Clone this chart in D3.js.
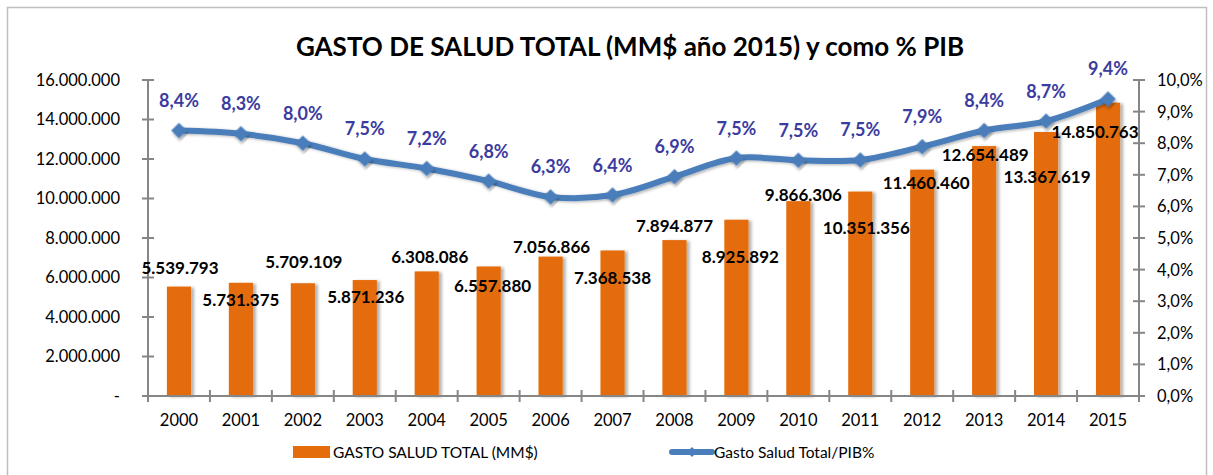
<!DOCTYPE html>
<html>
<head>
<meta charset="utf-8">
<script src="https://cdn.jsdelivr.net/npm/d3@7"></script>
<style>
  body { margin: 0; background: #fff; }
  text { font-family: Lato, "Open Sans", sans-serif; }
</style>
</head>
<body>
<div id="chart"></div>
<script>
const years = ['2000', '2001', '2002', '2003', '2004', '2005', '2006', '2007',
  '2008', '2009', '2010', '2011', '2012', '2013', '2014', '2015'];
const gastoTotal = [5539793, 5731375, 5709109, 5871236, 6308086, 6557880, 7056866, 7368538,
  7894877, 8925892, 9866306, 10351356, 11460460, 12654489, 13367619, 14850763];
const gastoPib = [8.4, 8.3, 8.0, 7.5, 7.2, 6.8, 6.3, 6.36, 6.94, 7.53, 7.46, 7.47, 7.89, 8.4, 8.7, 9.4];
const leftTicks = [0, 2000000, 4000000, 6000000, 8000000, 10000000, 12000000, 14000000, 16000000];
const rightTicks = [0, 1, 2, 3, 4, 5, 6, 7, 8, 9, 10];

// manual nudges for the bar labels, like the ones dragged around in the original
const labelShift = [[1, -19], [0, 17], [1, -21], [1, 17], [3, -15], [4, 19], [1, -10], [0, 27],
  [0, -14], [4, 37], [5, -6], [6, 36], [4, 13], [1, 9], [1, 45], [-13, 29]];

const width = 1213;
const height = 475;
const plotLeft = 148; const plotRight = 1139;
const plotTop = 80; const plotBottom = 396;

const locale = d3.formatLocale({decimal: ',', thousands: '.', grouping: [3], currency: ['$', '']});
const fmtInt = locale.format(',d');
const fmtPct = locale.format('.1f');

const x = d3.scaleBand().domain(years).range([plotLeft, plotRight]).paddingInner(0.61).paddingOuter(0.305);
const yL = d3.scaleLinear().domain([0, 16000000]).range([plotBottom, plotTop]);
const yR = d3.scaleLinear().domain([0, 10]).range([plotBottom, plotTop]);

const svg = d3.select('#chart').append('svg').attr('width', width).attr('height', height);

const defs = svg.append('defs');
const shadow = defs.append('filter').attr('id', 'shadow')
  .attr('x', '-30%').attr('y', '-30%').attr('width', '160%').attr('height', '160%');
shadow.append('feDropShadow').attr('dx', 3).attr('dy', 1).attr('stdDeviation', 1.4)
  .attr('flood-color', '#000').attr('flood-opacity', 0.3);

svg.append('rect').attr('x', 7.5).attr('y', 7.5).attr('width', 1199).attr('height', 490)
  .attr('fill', '#fff').attr('stroke', '#bfbfbf').attr('stroke-width', 1.5);

svg.append('text')
  .attr('x', 630).attr('y', 56)
  .attr('text-anchor', 'middle')
  .style('font-size', '26px').style('font-weight', 'bold').style('fill', '#000')
  .text('GASTO DE SALUD TOTAL (MM$ año 2015) y como % PIB');

// bars
svg.append('g').selectAll('rect')
  .data(gastoTotal)
  .enter()
  .append('rect')
  .attr('x', (d, i) => x(years[i]))
  .attr('y', (d) => yL(d))
  .attr('width', x.bandwidth())
  .attr('height', (d) => plotBottom - yL(d))
  .attr('fill', '#E46C0A')
  .attr('filter', 'url(#shadow)');

// axes
const axisColor = '#868686';
const axes = svg.append('g').style('stroke', axisColor).style('stroke-width', 2);
axes.append('line').attr('x1', plotLeft).attr('x2', plotLeft).attr('y1', plotTop).attr('y2', plotBottom);
axes.append('line').attr('x1', plotRight).attr('x2', plotRight).attr('y1', plotTop).attr('y2', plotBottom);
axes.append('line').attr('x1', plotLeft).attr('x2', plotRight).attr('y1', plotBottom).attr('y2', plotBottom);

axes.selectAll('.tl').data(leftTicks).enter().append('line')
  .attr('x1', plotLeft - 6).attr('x2', plotLeft + 6)
  .attr('y1', (d) => yL(d)).attr('y2', (d) => yL(d));
axes.selectAll('.tr').data(rightTicks).enter().append('line')
  .attr('x1', plotRight - 6).attr('x2', plotRight + 6)
  .attr('y1', (d) => yR(d)).attr('y2', (d) => yR(d));
const step = x.step();
axes.selectAll('.tx').data(d3.range(years.length + 1)).enter().append('line')
  .attr('x1', (d) => plotLeft + d * step).attr('x2', (d) => plotLeft + d * step)
  .attr('y1', plotBottom - 6).attr('y2', plotBottom + 6);

svg.append('g').selectAll('text')
  .data(leftTicks)
  .enter()
  .append('text')
  .attr('x', 120)
  .attr('y', (d) => yL(d))
  .attr('dy', '0.36em')
  .attr('text-anchor', 'end')
  .style('font-size', '16.5px').style('fill', '#000')
  .text((d) => d === 0 ? '-' : fmtInt(d));

svg.append('g').selectAll('text')
  .data(rightTicks)
  .enter()
  .append('text')
  .attr('x', 1157)
  .attr('y', (d) => yR(d))
  .attr('dy', '0.36em')
  .style('font-size', '16.5px').style('fill', '#000')
  .text((d) => fmtPct(d) + '%');

svg.append('g').selectAll('text')
  .data(years)
  .enter()
  .append('text')
  .attr('x', (d) => x(d) + x.bandwidth() / 2)
  .attr('y', 420)
  .attr('dy', '0.36em')
  .attr('text-anchor', 'middle')
  .style('font-size', '16.5px').style('fill', '#000')
  .text((d) => d);

// line + markers
const line = d3.line()
  .x((d, i) => x(years[i]) + x.bandwidth() / 2)
  .y((d) => yR(d))
  .curve(d3.curveCatmullRom.alpha(0.5));

svg.append('path')
  .datum(gastoPib)
  .attr('d', line)
  .attr('fill', 'none')
  .attr('stroke', '#4A7EBB')
  .attr('stroke-width', 6)
  .attr('stroke-linejoin', 'round')
  .attr('filter', 'url(#shadow)');

const diamond = d3.symbol().type(d3.symbolSquare).size(120);
svg.append('g').selectAll('path')
  .data(gastoPib)
  .enter()
  .append('path')
  .attr('d', diamond)
  .attr('transform', (d, i) => `translate(${x(years[i]) + x.bandwidth() / 2},${yR(d)}) rotate(45)`)
  .attr('fill', '#4A7EBB')
  .attr('filter', 'url(#shadow)');

svg.append('g').selectAll('text')
  .data(gastoPib)
  .enter()
  .append('text')
  .attr('x', (d, i) => x(years[i]) + x.bandwidth() / 2)
  .attr('y', (d) => yR(d) - 30)
  .attr('dy', '0.36em')
  .attr('text-anchor', 'middle')
  .style('font-size', '18px').style('font-weight', 'bold').style('fill', '#3B3BA0')
  .text((d) => fmtPct(d) + '%');

// bar value labels
svg.append('g').selectAll('text')
  .data(gastoTotal)
  .enter()
  .append('text')
  .attr('x', (d, i) => x(years[i]) + x.bandwidth() / 2 + labelShift[i][0])
  .attr('y', (d, i) => yL(d) + labelShift[i][1])
  .attr('dy', '0.36em')
  .attr('text-anchor', 'middle')
  .style('font-size', '17px').style('font-weight', 'bold').style('fill', '#000')
  .text((d) => fmtInt(d));

// legend
const legend = svg.append('g').style('font-size', '15.5px');
legend.append('rect').attr('x', 293).attr('y', 446).attr('width', 37).attr('height', 12).attr('fill', '#E46C0A');
legend.append('text').attr('x', 333).attr('y', 452).attr('dy', '0.36em').text('GASTO SALUD TOTAL (MM$)');
legend.append('line').attr('x1', 672).attr('x2', 712).attr('y1', 452).attr('y2', 452)
  .attr('stroke', '#4A7EBB').attr('stroke-width', 6).attr('stroke-linecap', 'round');
legend.append('path').attr('d', d3.symbol().type(d3.symbolSquare).size(50))
  .attr('transform', 'translate(692,452) rotate(45)').attr('fill', '#4A7EBB');
legend.append('text').attr('x', 714).attr('y', 452).attr('dy', '0.36em').text('Gasto Salud Total/PIB%');
</script>
</body>
</html>
